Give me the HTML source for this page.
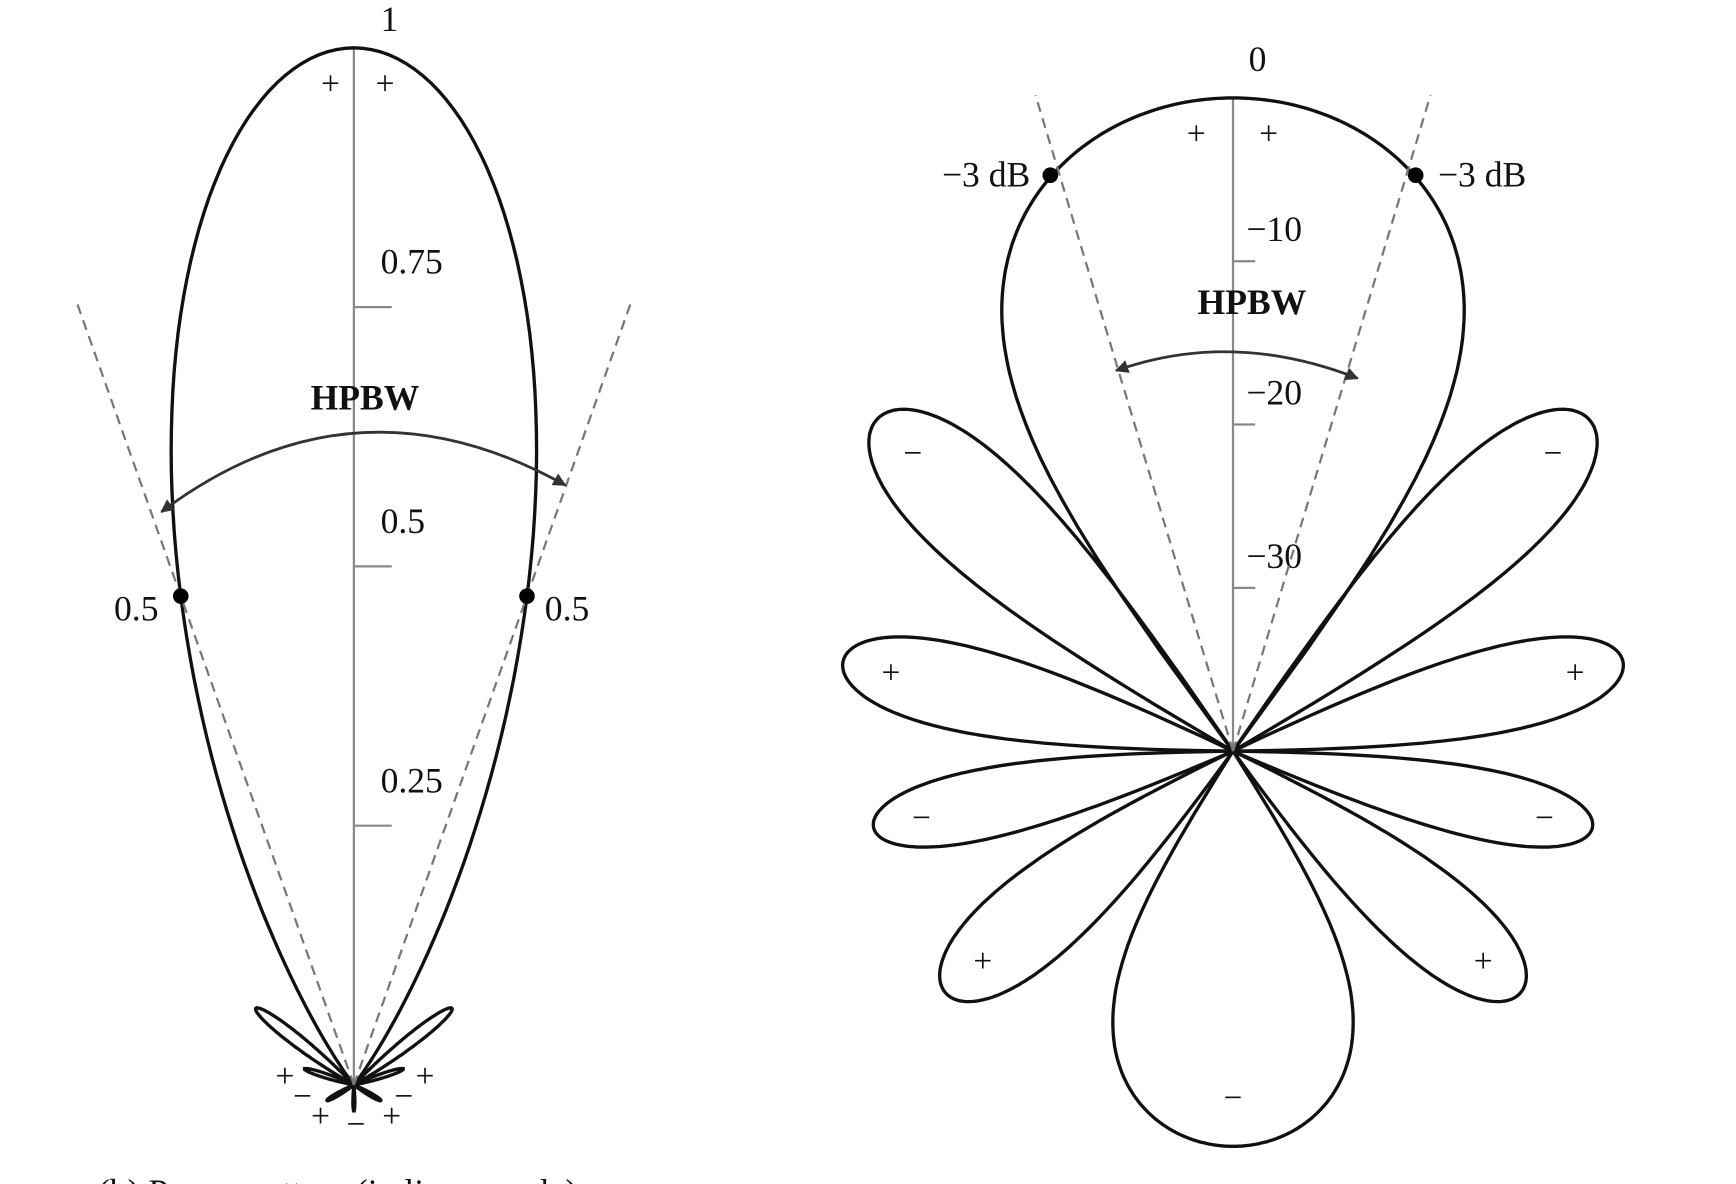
<!DOCTYPE html>
<html><head><meta charset="utf-8"><style>
html,body{margin:0;padding:0;background:#fff;}
svg{display:block;}
text{font-family:"Liberation Serif",serif;fill:#111;}
</style></head><body>
<svg id="chart" width="1736" height="1184" viewBox="0 0 1560 1064" preserveAspectRatio="none" xmlns="http://www.w3.org/2000/svg">
<defs>
<marker id="arr" markerWidth="12" markerHeight="12" refX="9" refY="5" orient="auto-start-reverse" markerUnits="userSpaceOnUse" viewBox="0 0 10 10"><path d="M0,0 L10,5 L0,10 z" fill="#333"/></marker>
</defs>
<g id="left"></g>
<g id="right"></g>
</svg>
<script>
// ---- Left chart (linear scale) data ----
const leftLobeCenters = [0, 52, 72, 120, 180];
const leftLobePeaks = [1, 0.12, 0.05, 0.03, 0.025];
const leftLobeHalfWidths = [39, 8, 7, 8, 6];
const leftLobeExponents = [2, 1, 1, 1, 1];
const leftTickValues = [0.25, 0.5, 0.75];
const leftTickLabels = ["0.25", "0.5", "0.75"];
const leftHalfPowerAngle = 19.5;
const leftHalfPowerValue = 0.5;

// ---- Right chart (dB scale) data ----
const rightLobeCenters = [0, 47, 77, 102, 130, 180];
const rightLobePeaksDb = [0, -10.2, -15.5, -17.5, -17, -15.8];
const rightLobeHalfWidths = [37, 13, 13, 12, 15, 33];
const rightLobeExponents = [1.15, 1.2, 1.2, 1.2, 1.2, 0.8];
const rightLobeSigns = ["+", "−", "+", "−", "+", "−"];
const rightTickValues = [-10, -20, -30];
const rightTickLabels = ["−10", "−20", "−30"];
const rightHalfPowerAngle = 17.6;
const rightHalfPowerDb = -3;
const rightDbRange = 40;

const NS = "http://www.w3.org/2000/svg";
function mk(parent, tag, attrs, txt) {
  const e = document.createElementNS(NS, tag);
  for (const k in attrs) e.setAttribute(k, attrs[k]);
  if (txt !== undefined) e.textContent = txt;
  parent.appendChild(e);
  return e;
}
const rad = d => d * Math.PI / 180;

const L = {cx: 318, cy: 975, R: 932};
const lr = v => L.R * v;
const lpt = (deg, v) => [L.cx + lr(v) * Math.sin(rad(deg)), L.cy - lr(v) * Math.cos(rad(deg))];
const Rt = {cx: 1108, cy: 675, R: 587};
const rr = db => Rt.R * Math.max(0, 1 + db / rightDbRange);
const rpt = (deg, db) => [Rt.cx + rr(db) * Math.sin(rad(deg)), Rt.cy - rr(db) * Math.cos(rad(deg))];

function lobePath(ptFn, valFn, c, hw, sign) {
  let d = "";
  for (let i = 0; i <= 160; i++) {
    const t = -hw + 2 * hw * i / 160;
    const p = ptFn(sign * (c + t), valFn(t));
    d += (i ? "L" : "M") + p[0].toFixed(1) + "," + p[1].toFixed(1);
  }
  return d + "Z";
}

const gL = document.getElementById("left");
const gR = document.getElementById("right");

// ===== LEFT =====
let el = mk(gL, "line", {x1: L.cx, y1: L.cy, x2: L.cx, y2: L.cy - lr(1), stroke: "#888", "stroke-width": 2});


leftTickValues.forEach((v, i) => {
  const y = L.cy - lr(v);
  const t = mk(gL, "line", {x1: L.cx, y1: y, x2: L.cx + 34, y2: y, stroke: "#888", "stroke-width": 2});
  
  
  const lb = mk(gL, "text", {x: L.cx + 24, y: y - 30, "font-size": 32}, leftTickLabels[i]);
  
  
});
el = mk(gL, "text", {x: 342, y: 28, "font-size": 32}, "1");


leftLobeCenters.forEach((c, i) => {
  const sides = (c === 0 || c === 180) ? [1] : [1, -1];
  sides.forEach(s => {
    const f = t => leftLobePeaks[i] * Math.pow(Math.max(0, Math.cos(rad(t / leftLobeHalfWidths[i] * 90))), leftLobeExponents[i]);
    const p = mk(gL, "path", {d: lobePath(lpt, f, c, leftLobeHalfWidths[i], s), fill: "none", stroke: "#111", "stroke-width": 3});
    
    
  });
});
[-1, 1].forEach(s => {
  const a = s * leftHalfPowerAngle;
  const e = lpt(a, 0.8);
  const dl = mk(gL, "line", {x1: L.cx, y1: L.cy, x2: e[0], y2: e[1], stroke: "#777", "stroke-width": 2, "stroke-dasharray": "9,6"});
  
  
  const p = lpt(a, leftHalfPowerValue);
  const dot = mk(gL, "circle", {cx: p[0], cy: p[1], r: 7, fill: "#000"});
  
  
  const lb = mk(gL, "text", {x: s < 0 ? p[0] - 60 : p[0] + 16, y: p[1] + 22, "font-size": 32}, "0.5");
  
  
});
el = mk(gL, "path", {d: "M145,460 Q318,330 508,436", fill: "none", stroke: "#333", "stroke-width": 2.5, "marker-end": "url(#arr)", "marker-start": "url(#arr)"});


el = mk(gL, "text", {x: 328, y: 368, "font-size": 32, "font-weight": "bold", "text-anchor": "middle"}, "HPBW");


[[297, 85, "+"], [346, 85, "+"], [256, 977, "+"], [382, 977, "+"], [272, 995, "−"], [363, 995, "−"], [288, 1013, "+"], [352, 1013, "+"], [320, 1020, "−"]].forEach(s => {
  const t = mk(gL, "text", {x: s[0], y: s[1], "font-size": 30, "text-anchor": "middle"}, s[2]);
  
  
});
el = mk(gL, "text", {x: 88, y: 1082, "font-size": 32, fill: "#222"}, "(b) Power pattern (in linear scale)");



// ===== RIGHT =====
el = mk(gR, "line", {x1: Rt.cx, y1: Rt.cy, x2: Rt.cx, y2: Rt.cy - rr(0), stroke: "#888", "stroke-width": 2});


rightTickValues.forEach((v, i) => {
  const y = Rt.cy - rr(v);
  const t = mk(gR, "line", {x1: Rt.cx, y1: y, x2: Rt.cx + 20, y2: y, stroke: "#888", "stroke-width": 2});
  
  
  const lb = mk(gR, "text", {x: Rt.cx + 12, y: y - 18, "font-size": 32}, rightTickLabels[i]);
  
  
});
el = mk(gR, "text", {x: 1122, y: 64, "font-size": 32}, "0");


rightLobeCenters.forEach((c, i) => {
  const sides = (c === 0 || c === 180) ? [1] : [1, -1];
  sides.forEach(s => {
    const f = t => {
      const a = Math.pow(Math.max(1e-6, Math.cos(rad(t / rightLobeHalfWidths[i] * 90))), rightLobeExponents[i]);
      return rightLobePeaksDb[i] + 20 * Math.log10(a);
    };
    const p = mk(gR, "path", {d: lobePath(rpt, f, c, rightLobeHalfWidths[i], s), fill: "none", stroke: "#111", "stroke-width": 3});
    
    
    if (c !== 0) {
      const q = rpt(s * c, rightLobePeaksDb[i] - 3);
      const lb = mk(gR, "text", {x: q[0], y: q[1] + 10, "font-size": 30, "text-anchor": "middle"}, rightLobeSigns[i]);
      
      
    }
  });
});
[-1, 1].forEach(s => {
  const a = s * rightHalfPowerAngle;
  const e = rpt(a, 0);
  const dl = mk(gR, "line", {x1: Rt.cx, y1: Rt.cy, x2: e[0], y2: e[1] - 30, stroke: "#777", "stroke-width": 2, "stroke-dasharray": "9,6"});
  
  
  const p = rpt(a, rightHalfPowerDb);
  const dot = mk(gR, "circle", {cx: p[0], cy: p[1], r: 7, fill: "#000"});
  
  
  const lb = mk(gR, "text", {x: s < 0 ? p[0] - 18 : p[0] + 20, y: p[1] + 10, "font-size": 32, "text-anchor": s < 0 ? "end" : "start"}, "−3 dB");
  
  
});
el = mk(gR, "path", {d: "M1003,333 Q1108,296 1220,340", fill: "none", stroke: "#333", "stroke-width": 2.5, "marker-end": "url(#arr)", "marker-start": "url(#arr)"});


el = mk(gR, "text", {x: 1125, y: 282, "font-size": 32, "font-weight": "bold", "text-anchor": "middle"}, "HPBW");


[[1075, 130, "+"], [1140, 130, "+"]].forEach(s => {
  const t = mk(gR, "text", {x: s[0], y: s[1], "font-size": 30, "text-anchor": "middle"}, s[2]);
  
  
});
</script>
</body></html>
